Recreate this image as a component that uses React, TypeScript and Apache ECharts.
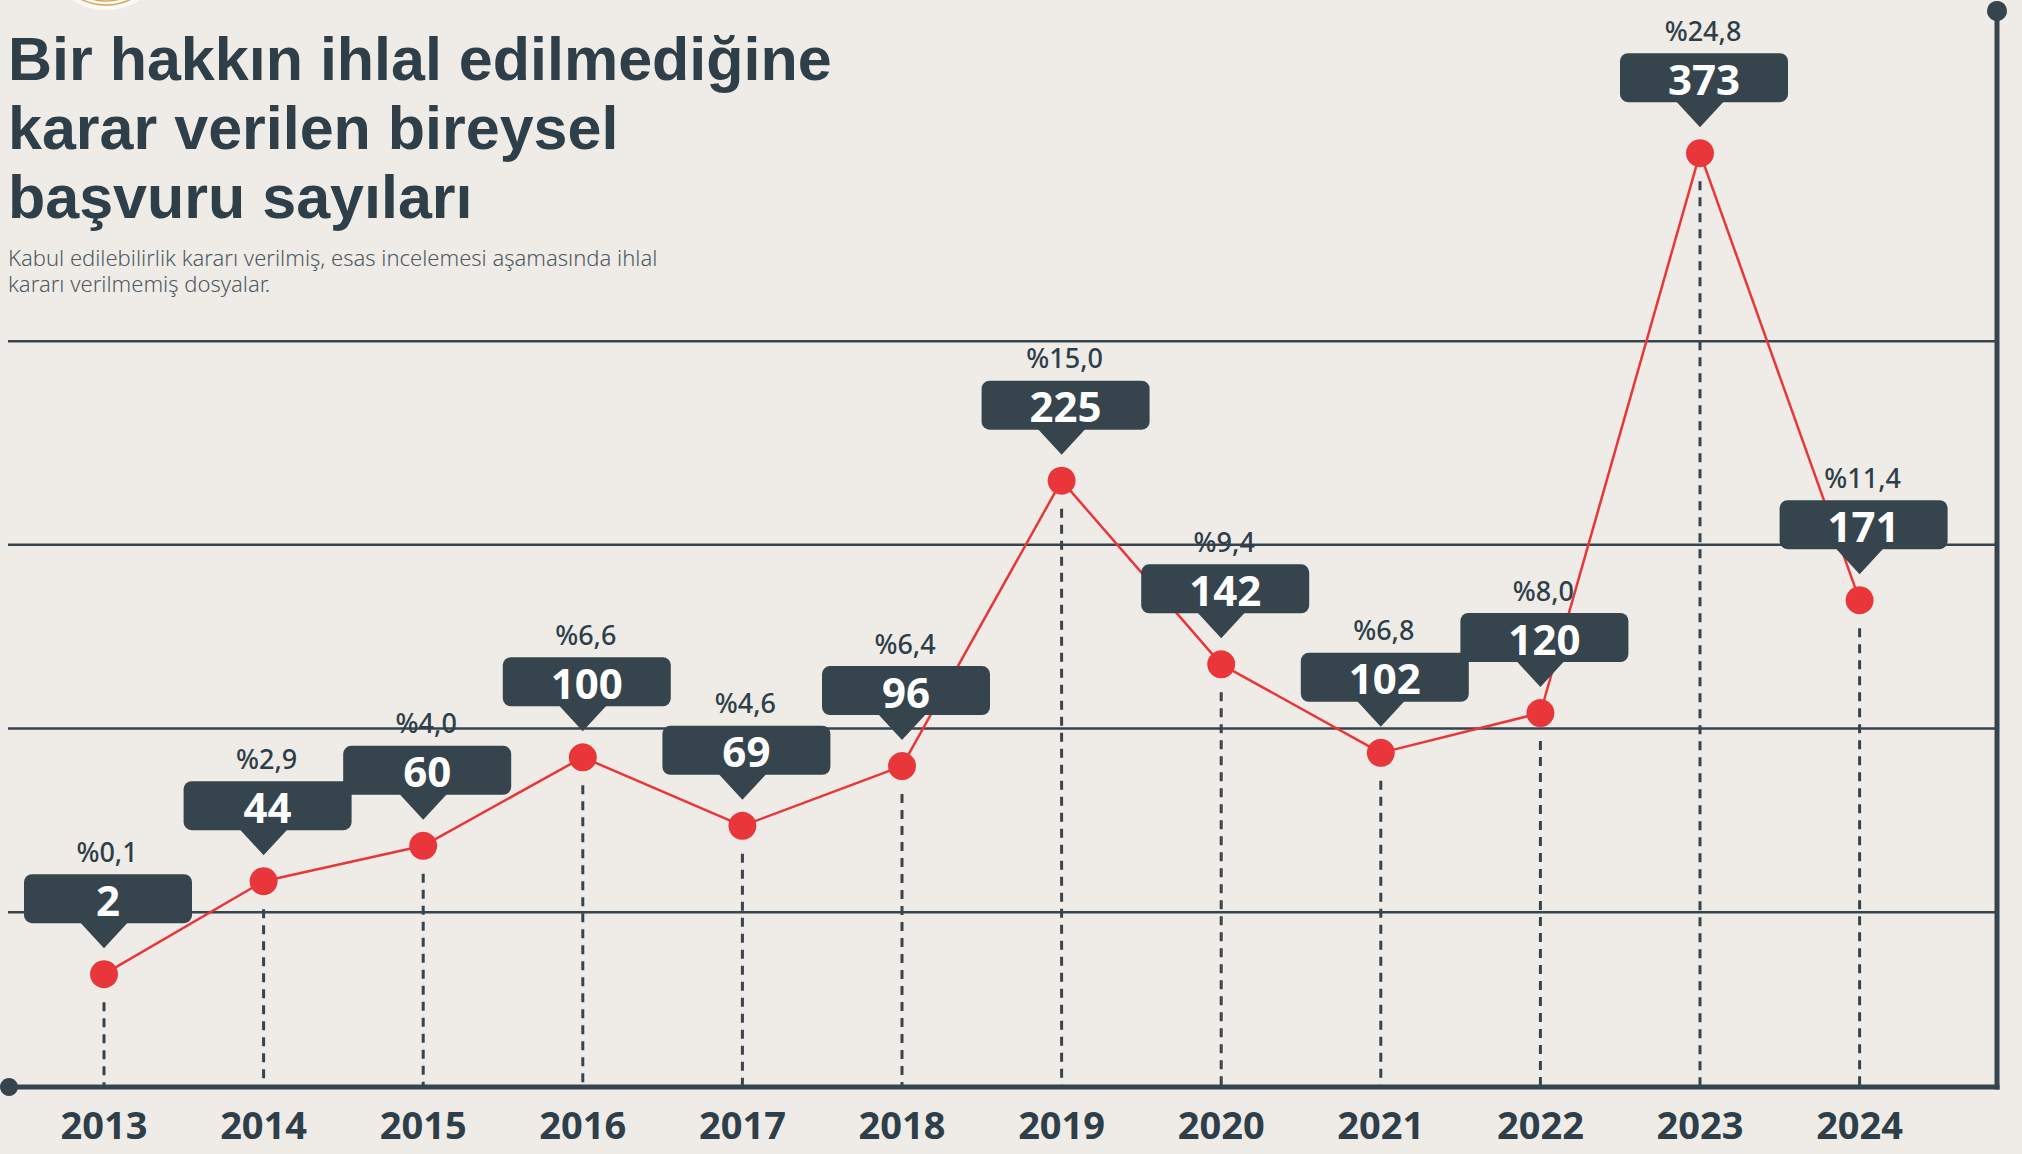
import React, { useEffect, useRef } from 'react';
import * as echarts from 'echarts';

const years = ['2013', '2014', '2015', '2016', '2017', '2018', '2019', '2020', '2021', '2022', '2023', '2024'];
const counts = [2, 44, 60, 100, 69, 96, 225, 142, 102, 120, 373, 171];
const shares = ['%0,1', '%2,9', '%4,0', '%6,6', '%4,6', '%6,4', '%15,0', '%9,4', '%6,8', '%8,0', '%24,8', '%11,4'];
const gridLevels = [30, 113, 196, 288];
const titleLines = ['Bir hakkın ihlal edilmediğine', 'karar verilen bireysel', 'başvuru sayıları'];
const subtitleLines = [
  'Kabul edilebilirlik kararı verilmiş, esas incelemesi aşamasında ihlal',
  'kararı verilmemiş dosyalar.',
];

const DARK = '#36444E';
const TEXT = '#2E3F4A';
const RED = '#E8363A';
const BG = '#EFECE7';
const FONT = '"Noto Sans", sans-serif';
const TITLE_FONT = '"Liberation Sans", Arial, sans-serif';
const Y_MIN = -49;
const Y_MAX = 430;

export default function App() {
  const ref = useRef<HTMLDivElement>(null);

  useEffect(() => {
    if (!ref.current) return;
    const chart = echarts.init(ref.current, undefined, { renderer: 'svg' });

    const option: any = {
      animation: false,
      backgroundColor: BG,
      grid: { left: 24.2, width: 1915.2, top: 27, height: 1060 },
      xAxis: {
        type: 'category',
        data: years,
        boundaryGap: true,
        axisLine: { show: false },
        axisTick: { show: false },
        splitLine: { show: false },
        axisLabel: {
          margin: 18,
          fontFamily: FONT,
          fontSize: 38,
          fontWeight: 'bold',
          color: TEXT,
        },
      },
      yAxis: {
        type: 'value',
        min: Y_MIN,
        max: Y_MAX,
        show: false,
        splitLine: { show: false },
      },
      series: [
        {
          type: 'custom',
          z: 1,
          silent: true,
          data: counts.map((v, i) => [i, v]),
          renderItem: (params: any, api: any) => {
            const p = api.coord([api.value(0), api.value(1)]);
            const base = api.coord([api.value(0), Y_MIN]);
            return {
              type: 'line',
              shape: { x1: p[0], y1: p[1] + 28, x2: p[0], y2: base[1] },
              style: { stroke: DARK, lineWidth: 3, lineDash: [9, 7] },
            };
          },
        },
        {
          type: 'line',
          z: 3,
          data: counts,
          symbol: 'circle',
          symbolSize: 28,
          lineStyle: { color: RED, width: 2.5 },
          itemStyle: { color: RED },
          label: { show: false },
        },
        {
          type: 'custom',
          z: 5,
          silent: true,
          data: counts.map((v, i) => [i, v]),
          renderItem: (params: any, api: any) => {
            const idx = params.dataIndex;
            const p = api.coord([api.value(0), api.value(1)]);
            const x = p[0];
            const y = p[1];
            return {
              type: 'group',
              children: [
                {
                  type: 'rect',
                  shape: { x: x + 4 - 84, y: y - 100, width: 168, height: 49, r: 8 },
                  style: { fill: DARK },
                },
                {
                  type: 'polygon',
                  shape: { points: [[x - 24, y - 52], [x + 24, y - 52], [x, y - 26]] },
                  style: { fill: DARK },
                },
                {
                  type: 'text',
                  x: x + 4,
                  y: y - 75,
                  style: {
                    text: String(counts[idx]),
                    fill: '#FFFFFF',
                    fontFamily: FONT,
                    fontSize: 42,
                    fontWeight: 'bold',
                    align: 'center',
                    verticalAlign: 'middle',
                  },
                },
                {
                  type: 'text',
                  x: x + 3,
                  y: y - 123,
                  style: {
                    text: shares[idx],
                    fill: TEXT,
                    fontFamily: FONT,
                    fontSize: 27,
                    fontWeight: 500,
                    align: 'center',
                    verticalAlign: 'middle',
                  },
                },
              ],
            };
          },
        },
      ],
    };

    chart.setOption(option);

    const yPix = (v: number) => chart.convertToPixel({ yAxisIndex: 0 } as any, v) as number;
    const axisY = yPix(Y_MIN);
    const rightX = 1997;
    const graphics: any[] = [];
    gridLevels.forEach((lv) => {
      const gy = yPix(lv);
      graphics.push({
        type: 'line',
        z: 0,
        silent: true,
        shape: { x1: 8, y1: gy, x2: rightX, y2: gy },
        style: { stroke: DARK, lineWidth: 2.5 },
      });
    });
    graphics.push(
      {
        type: 'line',
        z: 0,
        silent: true,
        shape: { x1: 9, y1: axisY, x2: rightX + 2.5, y2: axisY },
        style: { stroke: DARK, lineWidth: 5 },
      },
      {
        type: 'line',
        z: 0,
        silent: true,
        shape: { x1: rightX, y1: 11, x2: rightX, y2: axisY + 2.5 },
        style: { stroke: DARK, lineWidth: 5 },
      },
      { type: 'circle', z: 0, silent: true, shape: { cx: 9, cy: axisY, r: 9 }, style: { fill: DARK } },
      { type: 'circle', z: 0, silent: true, shape: { cx: rightX, cy: 11, r: 10 }, style: { fill: DARK } },
      { type: 'circle', z: 0, silent: true, shape: { cx: 106, cy: -52, r: 62 }, style: { fill: '#FBFAF7' } },
      {
        type: 'circle',
        z: 0,
        silent: true,
        shape: { cx: 106, cy: -52, r: 57 },
        style: { fill: 'none', stroke: '#D8A75A', lineWidth: 1.5 },
      },
      {
        type: 'circle',
        z: 0,
        silent: true,
        shape: { cx: 106, cy: -52, r: 53 },
        style: { fill: 'none', stroke: '#D8A75A', lineWidth: 1.5 },
      }
    );
    titleLines.forEach((line, i) => {
      graphics.push({
        type: 'text',
        z: 10,
        silent: true,
        x: 8,
        y: 59 + i * 69,
        style: {
          text: line,
          fill: TEXT,
          fontFamily: TITLE_FONT,
          fontSize: 61,
          fontWeight: 'bold',
          align: 'left',
          verticalAlign: 'middle',
        },
      });
    });
    subtitleLines.forEach((line, i) => {
      graphics.push({
        type: 'text',
        z: 10,
        silent: true,
        x: 8,
        y: 257 + i * 26,
        style: {
          text: line,
          fill: '#4E5A63',
          fontFamily: FONT,
          fontSize: 22,
          fontWeight: 300,
          align: 'left',
          verticalAlign: 'middle',
        },
      });
    });
    chart.setOption({ graphic: { elements: graphics } });

    return () => {
      chart.dispose();
    };
  }, []);

  return (
    <div
      ref={ref}
      style={{ position: 'absolute', left: 0, top: 0, width: 2022, height: 1154 }}
    />
  );
}
